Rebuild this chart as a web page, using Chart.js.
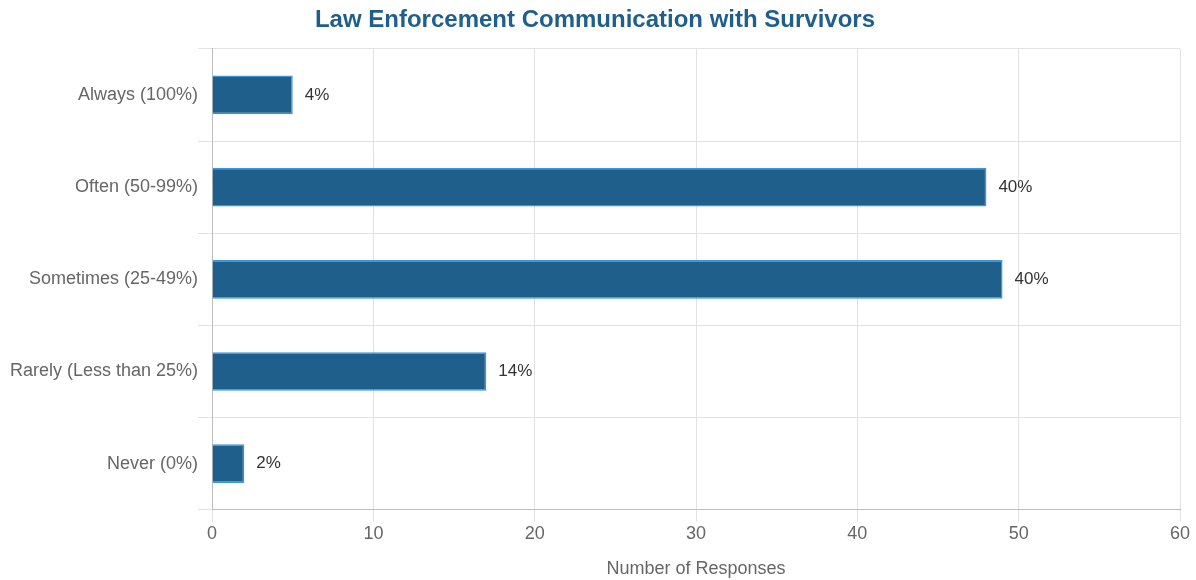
<!DOCTYPE html>
<html>
<head>
<meta charset="utf-8">
<script src="https://cdn.jsdelivr.net/npm/chart.js@4/dist/chart.umd.min.js"></script>
<style>
  html, body { margin: 0; padding: 0; background: #fff; }
  #wrap { width: 1196px; height: 580px; }
</style>
</head>
<body>
<div id="wrap"><canvas id="chart"></canvas></div>
<script>
const categories = ['Always (100%)', 'Often (50-99%)', 'Sometimes (25-49%)', 'Rarely (Less than 25%)', 'Never (0%)'];
const responses = [5, 48, 49, 17, 2];
const percentLabels = ['4%', '40%', '40%', '14%', '2%'];
const xTicks = [0, 10, 20, 30, 40, 50, 60];

// draws the percent text just right of each bar
const barLabels = {
  id: 'barLabels',
  afterDatasetsDraw(chart) {
    const ctx = chart.ctx;
    const meta = chart.getDatasetMeta(0);
    ctx.save();
    ctx.font = '17px "Liberation Sans", Arial, sans-serif';
    ctx.fillStyle = '#333';
    ctx.textBaseline = 'middle';
    ctx.textAlign = 'left';
    meta.data.forEach((bar, i) => {
      ctx.fillText(percentLabels[i], bar.x + 12, bar.y);
    });
    ctx.restore();
  }
};

Chart.defaults.font.family = '"Liberation Sans", Arial, sans-serif';

new Chart(document.getElementById('chart'), {
  type: 'bar',
  data: {
    labels: categories,
    datasets: [{
      label: 'Number of Responses',
      data: responses,
      backgroundColor: '#1f5f8b',
      borderColor: '#3d95d6',
      borderWidth: 1.5,
      barPercentage: 0.42,
      categoryPercentage: 1
    }]
  },
  options: {
    indexAxis: 'y',
    responsive: true,
    maintainAspectRatio: false,
    animation: false,
    layout: { padding: { left: 10, right: 16, top: 0, bottom: 0 } },
    plugins: {
      legend: { display: false },
      tooltip: { enabled: false },
      title: {
        display: true,
        text: 'Law Enforcement Communication with Survivors',
        color: '#1f5f8b',
        font: { size: 24, weight: 'bold' },
        padding: { top: 6, bottom: 14 }
      }
    },
    scales: {
      x: {
        min: 0,
        max: 60,
        afterBuildTicks(axis) {
          axis.ticks = xTicks.map(v => ({ value: v }));
        },
        grid: { color: '#e2e2e2', tickLength: 12 },
        border: { color: '#bdbdbd', display: true },
        ticks: { color: '#666', font: { size: 18 }, padding: 1 },
        title: {
          display: true,
          text: 'Number of Responses',
          color: '#666',
          font: { size: 18 },
          padding: { top: 13, bottom: 0 }
        }
      },
      y: {
        grid: { color: '#e2e2e2', tickLength: 14, offset: true },
        border: { color: '#bdbdbd' },
        ticks: { color: '#666', font: { size: 18 }, padding: 0 }
      }
    }
  },
  plugins: [barLabels]
});
</script>
</body>
</html>
